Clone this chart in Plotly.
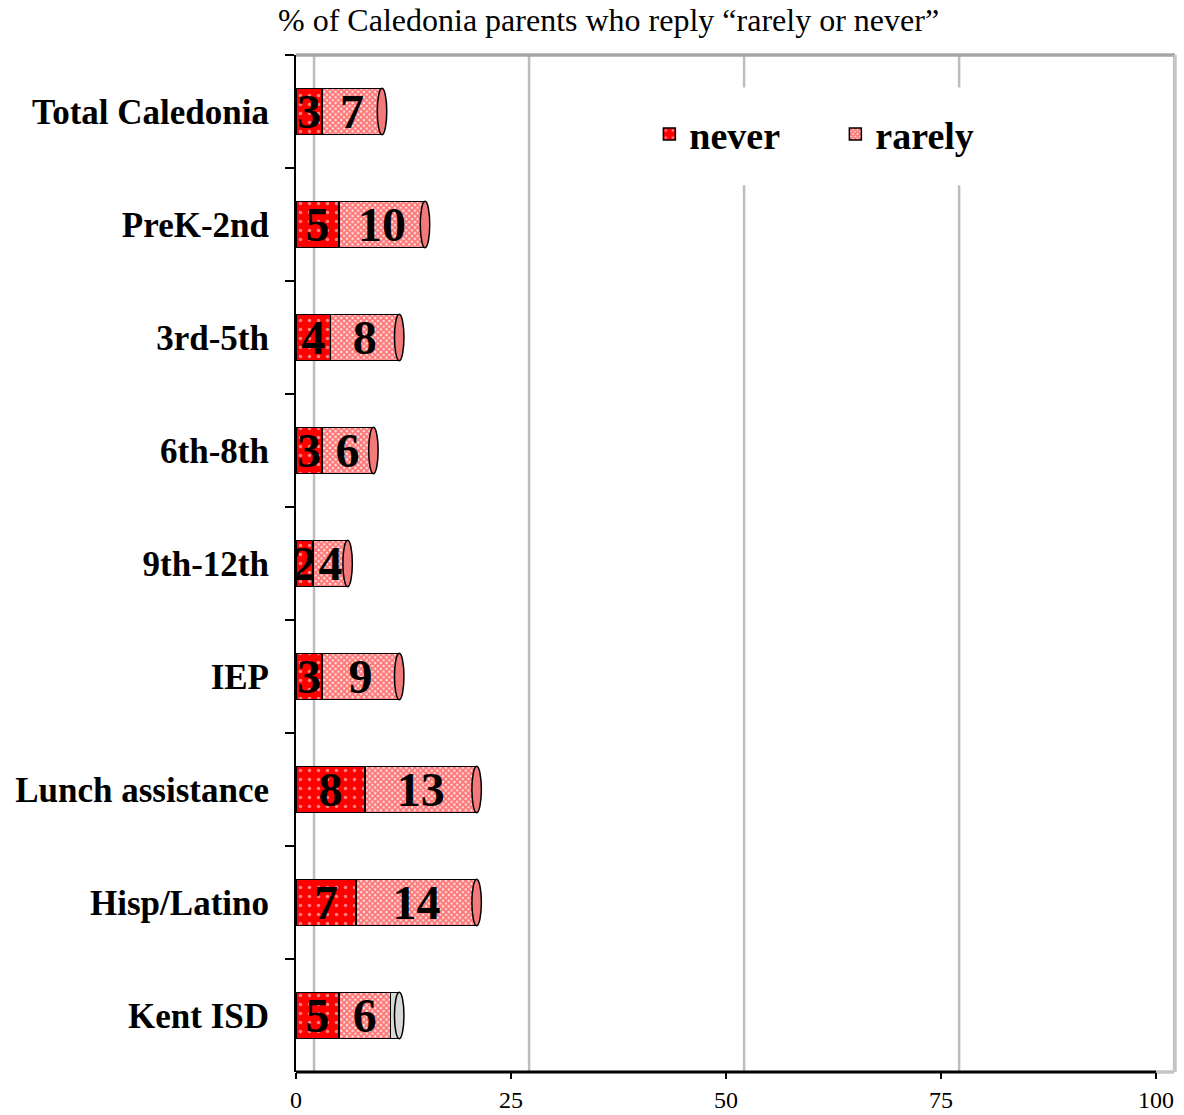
import plotly.graph_objects as go

# Survey groups (top to bottom) and percentages
groups = ["Total Caledonia", "PreK-2nd", "3rd-5th", "6th-8th", "9th-12th",
          "IEP", "Lunch assistance", "Hisp/Latino", "Kent ISD"]
never = [3, 5, 4, 3, 2, 3, 8, 7, 5]
rarely = [7, 10, 8, 6, 4, 9, 13, 14, 6]
other = [None, None, None, None, None, None, None, None, 1]
x_ticks = [0, 25, 50, 75, 100]

SERIF = "Liberation Serif"
BAR_W = 0.41
DEPTH = 2.1  # back-wall shift of the 3D gridlines, in axis units
LABEL_FONT = dict(family=SERIF, size=48, color="black", weight="bold")

fig = go.Figure()

fig.add_trace(go.Bar(
    y=groups, x=never, name="never", orientation="h", width=BAR_W,
    marker=dict(color="#ff0000", line=dict(color="black", width=1.5),
                pattern=dict(shape=".", fgcolor="white", bgcolor="#ff0000",
                             size=9, solidity=0.12)),
    text=[str(v) for v in never], textposition="inside",
    insidetextanchor="middle", constraintext="none", textangle=0,
    textfont=LABEL_FONT,
))
fig.add_trace(go.Bar(
    y=groups, x=rarely, name="rarely", orientation="h", width=BAR_W,
    marker=dict(color="#f06060", line=dict(color="black", width=1.5),
                pattern=dict(shape="x", fgcolor="#ff0000", bgcolor="#ffe4e4",
                             size=4, solidity=0.7)),
    text=[str(v) for v in rarely], textposition="inside",
    insidetextanchor="middle", constraintext="none", textangle=0,
    textfont=LABEL_FONT,
))
fig.add_trace(go.Bar(
    y=groups, x=other, name="other", orientation="h", width=BAR_W,
    showlegend=False,
    marker=dict(color="#d8d8d8", line=dict(color="black", width=1.5)),
))

shapes = []
# 3D back-wall gridlines
for v in x_ticks:
    shapes.append(dict(type="line", xref="x", yref="paper",
                       x0=v + DEPTH, x1=v + DEPTH, y0=0, y1=1,
                       line=dict(color="#bdbdbd", width=2.5), layer="below"))
# back-wall frame (top / right / floor edge)
shapes.append(dict(type="line", xref="paper", yref="paper", x0=0, x1=1, y0=1, y1=1,
                   line=dict(color="#a6a6a6", width=3.5), layer="below"))
shapes.append(dict(type="line", xref="paper", yref="paper", x0=1, x1=1, y0=0, y1=1,
                   line=dict(color="#c4c4c4", width=3.5), layer="below"))
shapes.append(dict(type="line", xref="x", yref="paper", x0=x_ticks[-1], x1=x_ticks[-1] + DEPTH,
                   y0=0, y1=0, line=dict(color="#c4c4c4", width=3.5), layer="below"))
# white backing behind the legend
shapes.append(dict(type="rect", xref="paper", yref="paper",
                   x0=0.40, x1=0.80, y0=0.872, y1=0.968,
                   fillcolor="white", line=dict(width=0), layer="below"))
# value axis line
shapes.append(dict(type="line", xref="x", yref="paper", x0=x_ticks[0], x1=x_ticks[-1],
                   y0=0, y1=0, line=dict(color="black", width=3)))

# rounded cylinder end caps, placed at each bar's total
for i, g in enumerate(groups):
    total = never[i] + rarely[i] + (other[i] or 0)
    cap_col = "#d8d8d8" if other[i] else "#f27a7a"
    shapes.append(dict(type="circle", xref="x", yref="y",
                       x0=total - 0.55, x1=total + 0.55,
                       y0=i - BAR_W / 2, y1=i + BAR_W / 2,
                       fillcolor=cap_col, line=dict(color="black", width=1.5)))

fig.update_layout(
    width=1184, height=1115,
    margin=dict(l=296, r=9, t=55, b=43, autoexpand=False),
    paper_bgcolor="white", plot_bgcolor="white",
    barmode="stack", bargap=0.59,
    shapes=shapes,
    title=dict(text="% of Caledonia parents who reply “rarely or never”",
               x=0.514, xanchor="center", y=0.982, yanchor="middle",
               font=dict(family=SERIF, size=32, color="black")),
    legend=dict(orientation="h", traceorder="normal",
                x=0.402, xanchor="left", y=0.922, yanchor="middle",
                bgcolor="rgba(255,255,255,0)", entrywidth=141,
                font=dict(family=SERIF, size=38, color="black", weight="bold")),
    xaxis=dict(range=[0, x_ticks[-1] + DEPTH + 0.1], tickvals=x_ticks,
               automargin=False,
               showgrid=False, zeroline=False, showline=False,
               ticks="outside", ticklen=6, tickwidth=1.5, tickcolor="black",
               tickfont=dict(family=SERIF, size=24, color="black")),
    yaxis=dict(categoryorder="array", categoryarray=groups, autorange="reversed",
               automargin=False,
               showgrid=False, zeroline=False, showline=True,
               linecolor="black", linewidth=2,
               ticks="outside", tickson="boundaries", ticklen=9,
               tickcolor="black", tickwidth=1.5, ticklabelstandoff=18,
               tickfont=dict(family=SERIF, size=35, color="black", weight="bold")),
)

fig.write_html("out.html")
